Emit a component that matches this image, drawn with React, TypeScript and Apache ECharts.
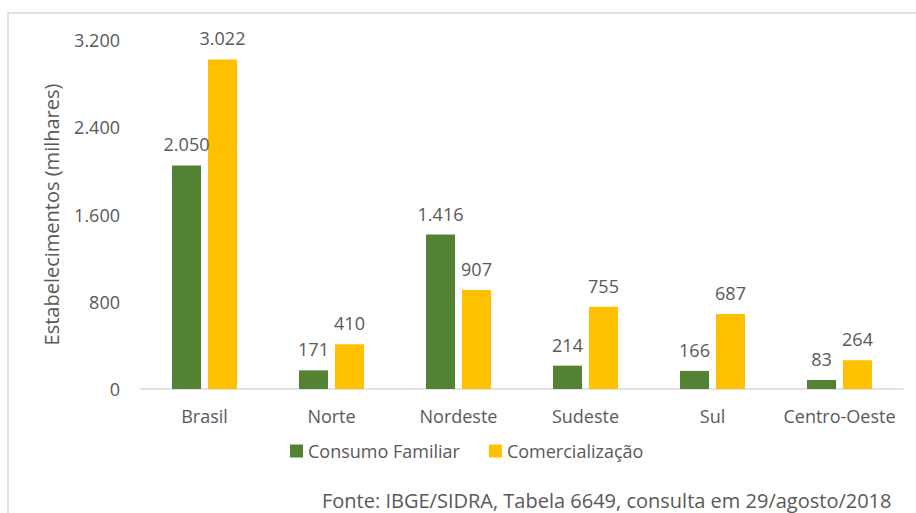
import React, { useEffect, useRef } from "react";
import * as echarts from "echarts";

const categories = ["Brasil", "Norte", "Nordeste", "Sudeste", "Sul", "Centro-Oeste"];
const consumoFamiliar = [2050, 171, 1416, 214, 166, 83];
const comercializacao = [3022, 410, 907, 755, 687, 264];
const seriesNames = ["Consumo Familiar", "Comercialização"];
const yTicks = { min: 0, max: 3200, interval: 800 };
const sourceText = "Fonte: IBGE/SIDRA, Tabela 6649, consulta em 29/agosto/2018";
const yAxisName = "Estabelecimentos (milhares)";

const FONT = "Open Sans";
const TXT = "#595959";
const FS = 18;

const fmt = (v: number) => {
  const s = Math.round(v).toString();
  return s.replace(/\B(?=(\d{3})+(?!\d))/g, ".");
};

export default function App() {
  const ref = useRef<HTMLDivElement>(null);
  useEffect(() => {
    if (!ref.current) return;
    const chart = echarts.init(ref.current, undefined, { renderer: "svg" });
    const label = {
      show: true,
      position: "top" as const,
      distance: 12,
      color: TXT,
      fontFamily: FONT,
      fontSize: FS,
      formatter: (p: any) => fmt(p.value),
    };
    chart.setOption({
      animation: false,
      backgroundColor: "#ffffff",
      textStyle: { fontFamily: FONT },
      grid: { left: 141, right: 13, top: 40, bottom: 124, containLabel: false },
      legend: {
        data: seriesNames,
        left: 290,
        top: 442,
        padding: 0,
        itemWidth: 13,
        itemHeight: 13,
        itemGap: 29,
        icon: "rect",
        textStyle: { color: TXT, fontFamily: FONT, fontSize: FS },
      },
      xAxis: {
        type: "category",
        data: categories,
        axisLine: { show: true, lineStyle: { color: "#d9d9d9", width: 1.5 } },
        axisTick: { show: false },
        axisLabel: { color: TXT, fontFamily: FONT, fontSize: FS, margin: 18, interval: 0 },
      },
      yAxis: {
        type: "value",
        min: yTicks.min,
        max: yTicks.max,
        interval: yTicks.interval,
        name: yAxisName,
        nameLocation: "middle",
        nameGap: 80,
        nameRotate: 90,
        nameTextStyle: { color: TXT, fontFamily: FONT, fontSize: 20 },
        axisLine: { show: false },
        axisTick: { show: false },
        splitLine: { show: false },
        axisLabel: { color: TXT, fontFamily: FONT, fontSize: FS, margin: 21, formatter: (v: number) => fmt(v) },
      },
      series: [
        {
          name: seriesNames[0],
          type: "bar",
          data: consumoFamiliar,
          barWidth: 29,
          barGap: "24%",
          itemStyle: { color: "#548235" },
          label,
        },
        {
          name: seriesNames[1],
          type: "bar",
          data: comercializacao,
          barWidth: 29,
          barGap: "24%",
          itemStyle: { color: "#FFC000" },
          label,
        },
      ],
      graphic: [
        {
          type: "rect",
          shape: { x: 8, y: 13, width: 1000, height: 700 },
          style: { fill: "none", stroke: "#d9d9d9", lineWidth: 1.5 },
          silent: true,
        },
        {
          type: "text",
          x: 322,
          y: 500,
          style: {
            text: sourceText,
            fill: TXT,
            font: `20px "${FONT}"`,
            verticalAlign: "middle",
          },
        },
      ],
    });
    return () => chart.dispose();
  }, []);
  return (
    <div
      ref={ref}
      style={{ position: "absolute", left: 0, top: 0, width: 916, height: 513 }}
    />
  );
}
